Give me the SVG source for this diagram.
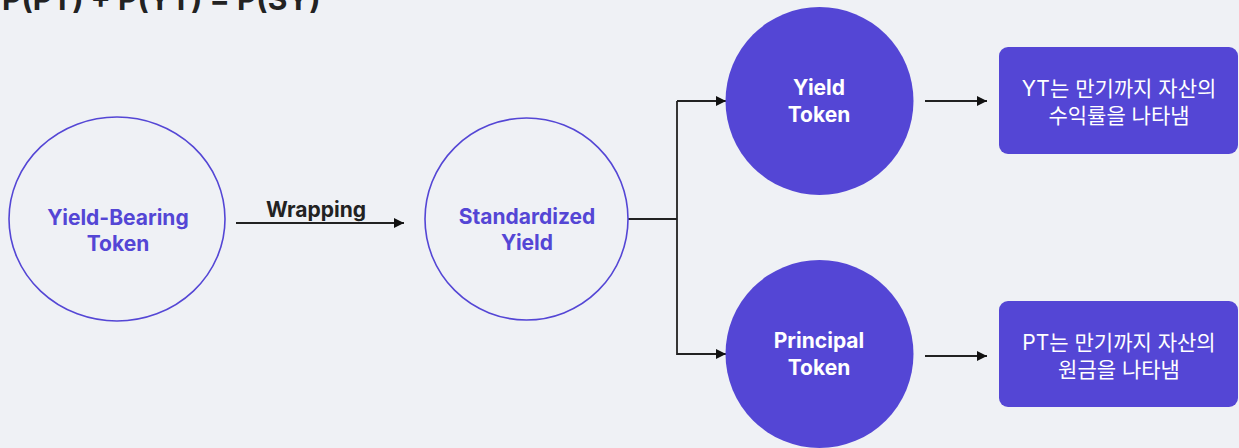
<svg xmlns="http://www.w3.org/2000/svg" width="1239" height="448" viewBox="0 0 1239 448">
<style>
.bg{fill:#eff1f5}
.outline{fill:none;stroke:#5446d5;stroke-width:1.6}
.filled{fill:#5446d5}
.lbl{font-family:Inter,"Noto Sans",sans-serif;font-weight:700;font-size:21px;text-anchor:middle}
.plbl{fill:#5446d5}
.wlbl{fill:#ffffff}
.kr{font-family:Inter,"Noto Sans CJK KR",sans-serif;font-weight:400;font-size:21px;fill:#ffffff;text-anchor:middle}
.conn{fill:none;stroke:#222222;stroke-width:1.8}
.title{font-family:Inter,"Noto Sans",sans-serif;font-weight:700;font-size:30px;fill:#222222}
</style>
<defs>
<marker id="arr" viewBox="0 0 10 10" refX="10" refY="5" markerWidth="10" markerHeight="10" markerUnits="userSpaceOnUse" orient="auto">
<path d="M0,0 L10,5 L0,10 z" fill="#111111"/>
</marker>
</defs>
<rect class="bg" x="0" y="0" width="1239" height="448"/>
<text class="title" x="2" y="10">P(PT) + P(YT) = P(SY)</text>
<g id="connectors">
<line class="conn" x1="236" y1="223" x2="404" y2="223" marker-end="url(#arr)"/>
<text x="316" y="217" font-family="Inter, 'Noto Sans', sans-serif" font-weight="700" font-size="21" fill="#222222" text-anchor="middle">Wrapping</text>
<polyline class="conn" points="628,219 677,219"/>
<polyline class="conn" points="677,101 677,354 726,354" marker-end="url(#arr)"/>
<line class="conn" x1="677" y1="101" x2="726" y2="101" marker-end="url(#arr)"/>
<line class="conn" x1="925" y1="101" x2="987" y2="101" marker-end="url(#arr)"/>
<line class="conn" x1="925" y1="356" x2="987" y2="356" marker-end="url(#arr)"/>
</g>
<g id="node-ybt">
<ellipse class="outline" cx="117" cy="219" rx="108" ry="102"/>
<text class="lbl plbl" x="118" y="225">Yield-Bearing</text>
<text class="lbl plbl" x="118" y="251">Token</text>
</g>
<g id="node-sy">
<ellipse class="outline" cx="526.5" cy="219" rx="101.5" ry="101"/>
<text class="lbl plbl" x="527" y="224">Standardized</text>
<text class="lbl plbl" x="527" y="250">Yield</text>
</g>
<g id="node-yt">
<circle class="filled" cx="819.5" cy="101" r="94"/>
<text class="lbl wlbl" x="819" y="95">Yield</text>
<text class="lbl wlbl" x="819" y="122">Token</text>
</g>
<g id="node-pt">
<circle class="filled" cx="819.5" cy="354" r="94"/>
<text class="lbl wlbl" x="819" y="348">Principal</text>
<text class="lbl wlbl" x="819" y="375">Token</text>
</g>
<g id="node-yt-desc">
<rect class="filled" x="999" y="47" width="239" height="107" rx="9"/>
<text class="kr" x="1119" y="96">YT는 만기까지 자산의</text>
<text class="kr" x="1119" y="123">수익률을 나타냄</text>
</g>
<g id="node-pt-desc">
<rect class="filled" x="999" y="301" width="239" height="106" rx="9"/>
<text class="kr" x="1119" y="350">PT는 만기까지 자산의</text>
<text class="kr" x="1119" y="377">원금을 나타냄</text>
</g>
</svg>
